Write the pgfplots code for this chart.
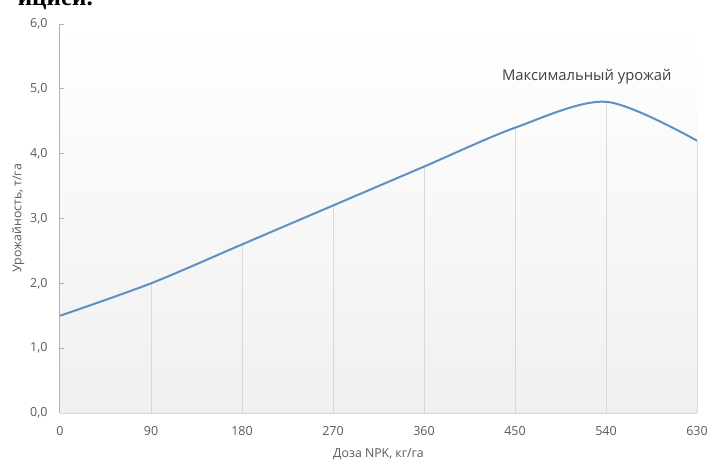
\documentclass[border=0pt]{standalone}
\usepackage{fontspec}
\setmainfont{Open Sans}
\newfontfamily\docserif{Liberation Serif}
\usepackage{pgfplots}
\pgfplotsset{compat=1.18}

\definecolor{curvecol}{HTML}{5E90C2}
\definecolor{yaxiscol}{HTML}{A7B6C8}
\definecolor{gridcol}{HTML}{D9D9D9}
\definecolor{labelcol}{HTML}{595959}
\definecolor{notecol}{HTML}{404040}

\begin{document}
\begin{tikzpicture}
% page = 715x470, axis box starts 60pt from the left and 57pt from the bottom
\useasboundingbox (-60pt,-57pt) rectangle (655pt,413pt);
% bottom of a line of the surrounding document, cut off by the screenshot
\node[anchor=base east, inner sep=0pt, font=\docserif\bfseries\fontsize{25}{27}\selectfont]
  at (33pt,407pt) {ицией.};
\begin{axis}[
    at={(0,0)}, anchor=south west,
    scale only axis,
    width=637pt, height=389pt,
    xmin=0, xmax=630, ymin=0, ymax=6,
    xtick={0,90,...,630},
    ytick={0,1,...,6},
    axis x line*=bottom,
    axis y line*=left,
    x axis line style={draw=gridcol, line width=0.8pt},
    y axis line style={draw=yaxiscol, line width=1pt},
    xtick style={draw=none},
    ytick style={draw=yaxiscol, line width=0.8pt},
    tick align=inside,
    major tick length=4pt,
    axis background/.style={shade, top color=white, bottom color=black!6},
    tick label style={font=\fontsize{12.5}{14}\selectfont, text=labelcol},
    /pgf/number format/assume math mode=true,
    yticklabel={\pgfmathprintnumber[fixed,fixed zerofill,precision=1,use comma]{\tick}},
    xticklabel style={yshift=-10pt},
    yticklabel style={xshift=-9pt},
    label style={font=\fontsize{12.3}{14}\selectfont, text=labelcol},
    xlabel={Доза NPK, кг/га},
    ylabel={Урожайность, т/га},
    xlabel style={yshift=-6pt},
    ylabel style={yshift=-1pt},
    clip=false,
]
% drop lines from the points to the axis
\addplot[ycomb, draw=gridcol, line width=0.7pt, no marks] coordinates {
    (90,2.0) (180,2.6) (270,3.2) (360,3.8) (450,4.4) (540,4.8) (630,4.2)
};
\addplot[curvecol, line width=2pt, smooth, no marks] coordinates {
    (0,1.5) (90,2.0) (180,2.6) (270,3.2) (360,3.8) (450,4.4) (540,4.8) (630,4.2)
};
\node[font=\fontsize{14.8}{17}\selectfont, text=notecol] at (axis cs:521,5.18) {Максимальный урожай};
\end{axis}
\end{tikzpicture}
\end{document}
